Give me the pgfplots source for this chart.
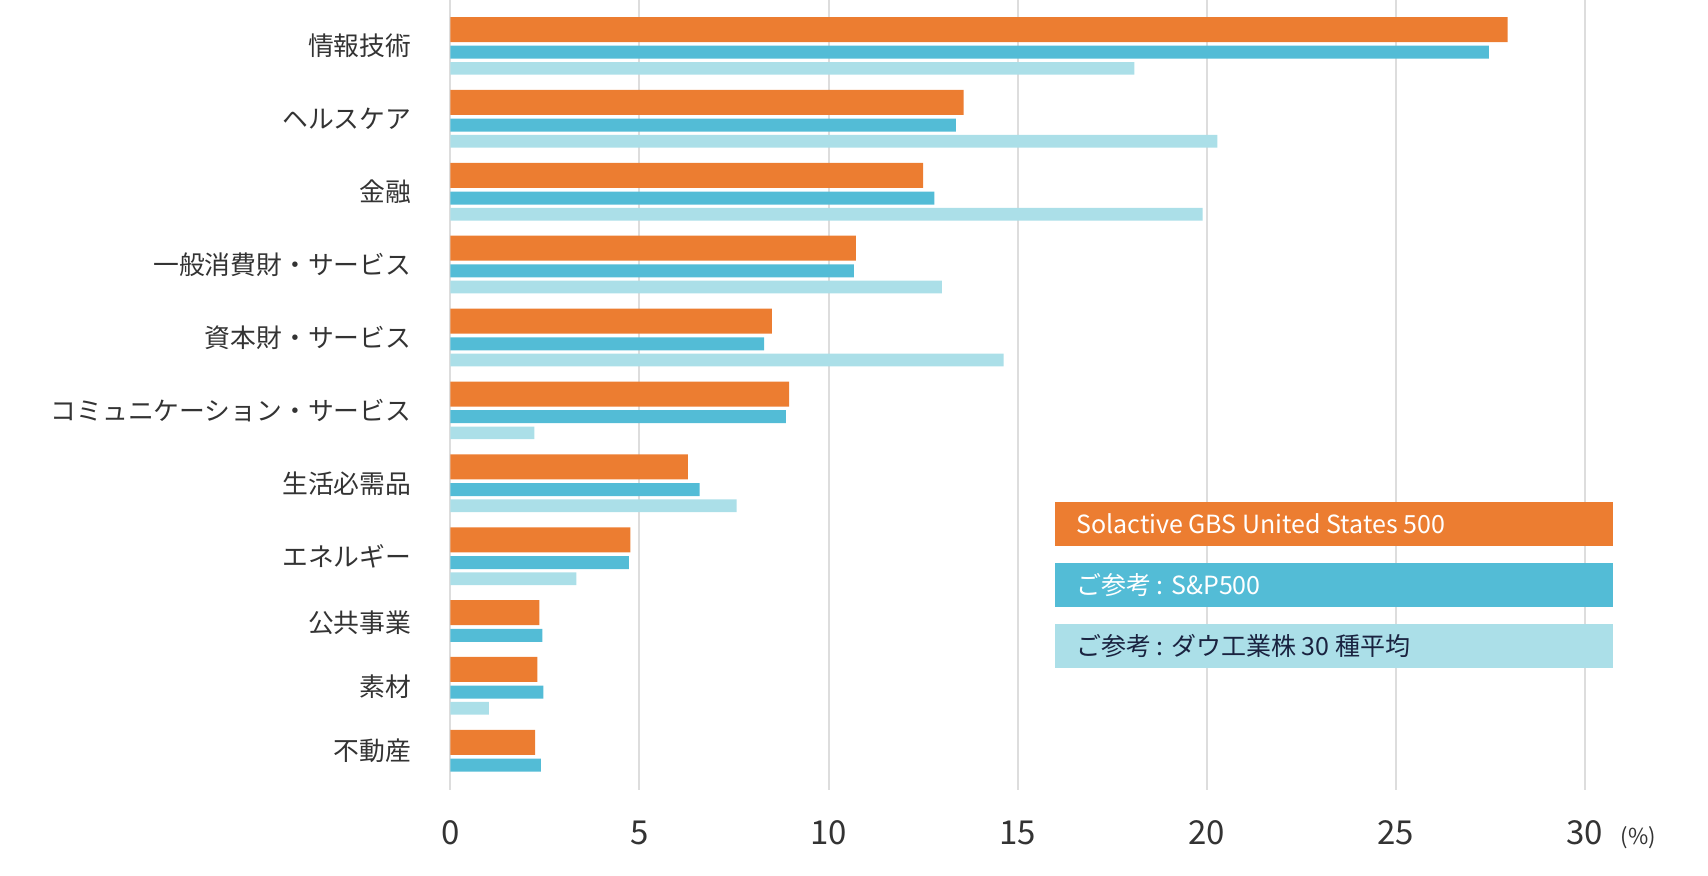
\documentclass[border=0pt]{standalone}
\usepackage{fontspec}
\setmainfont{Noto Sans CJK JP}
\usepackage{pgfplots}
\pgfplotsset{compat=1.18}
\definecolor{cOr}{HTML}{EC7D31}
\definecolor{cBl}{HTML}{53BCD6}
\definecolor{cLt}{HTML}{ABDFE8}
\definecolor{cGr}{HTML}{DDDDDD}
\definecolor{cTx}{HTML}{333333}
\definecolor{cNv}{HTML}{1A2340}
\begin{document}
\begin{tikzpicture}
\useasboundingbox (-225.2pt,0) rectangle (628.8pt,-437.5pt);
\begin{axis}[
  at={(0,0)}, anchor=north west,
  scale only axis, width=567.2pt, height=395pt,
  xmin=0, xmax=30, ymin=0, ymax=790, y dir=reverse,
  axis line style={draw=none},
  xtick={0,5,...,30},
  xmajorgrids, major grid style={cGr, line width=1pt},
  ytick={45.85,118.75,191.65,264.55,337.45,410.35,483.25,556.15,622.5,686.5,750.65},
  yticklabels={情報技術,ヘルスケア,金融,一般消費財・サービス,資本財・サービス,コミュニケーション・サービス,生活必需品,エネルギー,公共事業,素材,不動産},
  major tick length=0pt,
  xbar, bar shift=0pt,
  clip=false,
  ticklabel style={text=cTx},
  xticklabel style={font=\fontsize{16.5}{18}\selectfont, anchor=base, yshift=-27pt},
  yticklabel style={font=\fontsize{12.9}{15}\selectfont, anchor=east, inner sep=0pt, xshift=-19.35pt},
  /pgf/number format/assume math mode=true,
]
% Solactive GBS United States 500
\addplot[draw=none, fill=cOr, bar width=25] coordinates {
 (27.96,29.5) (13.57,102.4) (12.50,175.3) (10.72,248.2) (8.50,321.1) (8.96,394.0)
 (6.28,466.9) (4.76,539.8) (2.35,612.7) (2.30,669.4) (2.24,742.3)};
% S&P500
\addplot[draw=none, fill=cBl, bar width=13] coordinates {
 (27.46,52.2) (13.37,125.1) (12.80,198.0) (10.67,270.9) (8.30,343.8) (8.87,416.7)
 (6.59,489.6) (4.72,562.5) (2.43,635.4) (2.46,692.1) (2.39,765.0)};
% Dow 30
\addplot[draw=none, fill=cLt, bar width=12.7] coordinates {
 (18.09,68.35) (20.28,141.25) (19.89,214.15) (13.00,287.05) (14.63,359.95) (2.22,432.85)
 (7.57,505.75) (3.33,578.65) (1.02,708.25)};
% legend
\fill[cOr] (axis cs:16,502) rectangle (axis cs:30.75,545.7);
\fill[cBl] (axis cs:16,563) rectangle (axis cs:30.75,606.7);
\fill[cLt] (axis cs:16,624) rectangle (axis cs:30.75,667.7);
\node[anchor=west, xshift=10.25pt, text=white, inner sep=0pt, font=\fontsize{12.5}{14}\selectfont] at (axis cs:16,523.85) {Solactive GBS United States 500};
\node[anchor=west, xshift=10.25pt, text=white, inner sep=0pt, font=\fontsize{12.5}{14}\selectfont] at (axis cs:16,584.85) {ご参考 : S\&P500};
\node[anchor=west, xshift=10.25pt, text=cNv, inner sep=0pt, font=\fontsize{12.5}{14}\selectfont] at (axis cs:16,645.85) {ご参考 : ダウ工業株 30 種平均};
\node[anchor=base, yshift=-27pt, text=cTx, inner sep=0pt, font=\fontsize{11}{13}\selectfont] at (axis cs:31.42,790) {(\%)};
\end{axis}
\end{tikzpicture}
\end{document}
